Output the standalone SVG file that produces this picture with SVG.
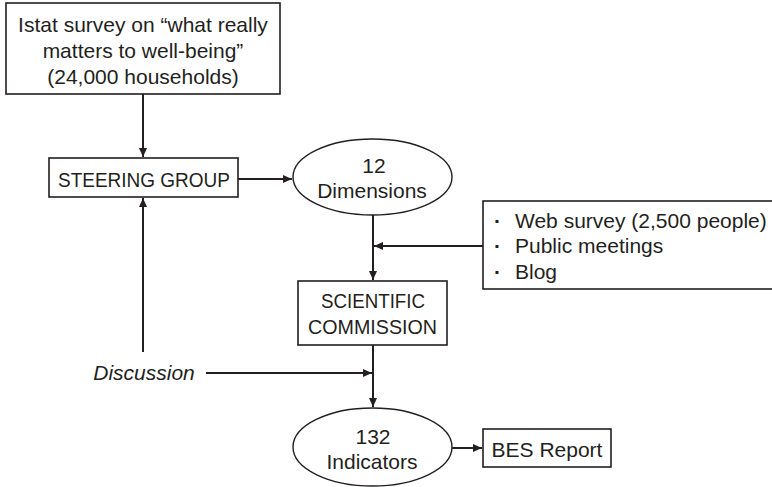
<svg xmlns="http://www.w3.org/2000/svg" width="772" height="487" viewBox="0 0 772 487">
<style>
.box{fill:#fff;stroke:#231f20;stroke-width:1.6}
.ell{fill:#fff;stroke:#231f20;stroke-width:1.4}
.t{font-family:"Liberation Sans",Arial,sans-serif;font-size:21px;fill:#231f20;text-anchor:middle}
.l{text-anchor:start}
.it{font-style:italic}
.b{font-weight:bold}
.c{fill:none;stroke:#231f20;stroke-width:2}
</style>
<defs>
<marker id="ah" markerUnits="userSpaceOnUse" markerWidth="10" markerHeight="9" refX="9" refY="4" orient="auto">
<path d="M0,0 L9,4 L0,8 z" fill="#231f20"/>
</marker>
</defs>
<rect width="772" height="487" fill="#fff"/>
<g id="connectors">
<line class="c" x1="143" y1="94" x2="143" y2="157" marker-end="url(#ah)"/>
<line class="c" x1="238" y1="179" x2="292" y2="179" marker-end="url(#ah)"/>
<line class="c" x1="373" y1="215" x2="373" y2="280" marker-end="url(#ah)"/>
<line class="c" x1="483" y1="246" x2="374" y2="246" marker-end="url(#ah)"/>
<line class="c" x1="373" y1="345" x2="373" y2="407" marker-end="url(#ah)"/>
<line class="c" x1="206" y1="373" x2="372" y2="373" marker-end="url(#ah)"/>
<line class="c" x1="143" y1="352" x2="143" y2="198" marker-end="url(#ah)"/>
<line class="c" x1="452" y1="448" x2="482" y2="448" marker-end="url(#ah)"/>
</g>
<g id="istat-survey">
<rect class="box" x="6" y="3" width="274" height="91"/>
<text class="t" x="143" y="32">Istat survey on “what really</text>
<text class="t" x="143" y="58">matters to well-being”</text>
<text class="t" x="143" y="84">(24,000 households)</text>
</g>
<g id="steering-group">
<rect class="box" x="49" y="158" width="189" height="39"/>
<text class="t" x="144" y="187" textLength="172" lengthAdjust="spacingAndGlyphs">STEERING GROUP</text>
</g>
<g id="dimensions">
<ellipse class="ell" cx="372.5" cy="177" rx="79.5" ry="38"/>
<text class="t" x="374" y="173">12</text>
<text class="t" x="372" y="198">Dimensions</text>
</g>
<g id="public-input">
<rect class="box" x="483" y="201" width="300" height="88"/>
<text class="t l" y="228"><tspan class="b" x="494">·</tspan><tspan x="515">Web survey (2,500 people)</tspan></text>
<text class="t l" y="253"><tspan class="b" x="494">·</tspan><tspan x="515">Public meetings</tspan></text>
<text class="t l" y="279"><tspan class="b" x="494">·</tspan><tspan x="515">Blog</tspan></text>
</g>
<g id="scientific-commission">
<rect class="box" x="298" y="281" width="149" height="64"/>
<text class="t" x="373" y="308" textLength="104" lengthAdjust="spacingAndGlyphs">SCIENTIFIC</text>
<text class="t" x="372.5" y="334" textLength="129" lengthAdjust="spacingAndGlyphs">COMMISSION</text>
</g>
<g id="discussion">
<text class="t it" x="144" y="380">Discussion</text>
</g>
<g id="indicators">
<ellipse class="ell" cx="372.5" cy="447" rx="79.5" ry="39"/>
<text class="t" x="373" y="444">132</text>
<text class="t" x="372" y="469">Indicators</text>
</g>
<g id="bes-report">
<rect class="box" x="483" y="429" width="128" height="38"/>
<text class="t" x="547" y="457">BES Report</text>
</g>
</svg>
